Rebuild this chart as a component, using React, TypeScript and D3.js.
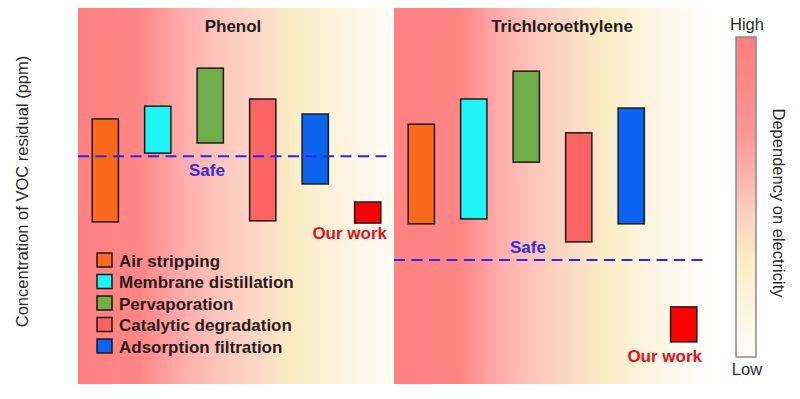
import React from "react";
import * as d3 from "d3";

const categories = ["Air stripping", "Membrane distillation", "Pervaporation", "Catalytic degradation", "Adsorption filtration", "Our work"];
const barColors = ["#fb6a1a", "#1ef4f4", "#6fae48", "#fc6464", "#0b63f2", "#ff0000"];

const phenolLow = [43.1, 61.4, 64.1, 43.4, 53.2, 42.8];
const phenolHigh = [70.5, 73.9, 84.0, 75.8, 71.8, 48.4];
const phenolSafe = 60.6;

const tceLow = [42.6, 43.9, 59.0, 37.8, 42.6, 11.2];
const tceHigh = [69.1, 75.8, 83.2, 66.8, 73.4, 20.5];
const tceSafe = 33.0;

const panelTitles = ["Phenol", "Trichloroethylene"];

const W = 800;
const H = 399;
const TOP = 8;
const BOTTOM = 384;
const PANEL_W = 314;
const panelX = [78, 394];

const y = d3.scaleLinear().domain([0, 100]).range([BOTTOM, TOP]);

const FONT = "'Liberation Sans', Arial, Helvetica, sans-serif";

type PanelProps = {
  idx: number;
  low: number[];
  high: number[];
  safe: number;
  safeLabelX: number;
  safeAbove: boolean;
};

function Panel({ idx, low, high, safe, safeLabelX, safeAbove }: PanelProps) {
  const x0 = panelX[idx];
  const x = d3
    .scaleBand<string>()
    .domain(categories)
    .range([x0, x0 + 317])
    .paddingInner(0.5)
    .paddingOuter(0.27);
  const safeY = y(safe);
  const ow = categories.length - 1;
  const owX = (x(categories[ow]) as number) + x.bandwidth() / 2;
  return (
    <g>
      <rect x={x0} y={TOP} width={PANEL_W} height={BOTTOM - TOP} fill={`url(#bg${idx})`} />
      <text x={x0 + (idx === 0 ? 155 : 168)} y={32} textAnchor="middle" fontFamily={FONT} fontWeight="bold" fontSize={17} fill="#1c1c1c">
        {panelTitles[idx]}
      </text>
      {categories.map((c, i) => (
        <rect
          key={c}
          x={x(c)}
          y={y(high[i])}
          width={x.bandwidth()}
          height={y(low[i]) - y(high[i])}
          fill={barColors[i]}
          stroke="#1e1a1a"
          strokeWidth={1.5}
        />
      ))}
      <line x1={x0} x2={x0 + PANEL_W - 1} y1={safeY} y2={safeY} stroke="#2a2ae6" strokeWidth={2} strokeDasharray="11,6.5" />
      <text x={safeLabelX} y={safeAbove ? safeY - 7 : safeY + 20} textAnchor="middle" fontFamily={FONT} fontWeight="bold" fontSize={17} fill="#3a2cd4">
        Safe
      </text>
      <text x={owX - (idx === 0 ? 18 : 19)} y={y(low[ow]) + (idx === 0 ? 16 : 20)} textAnchor="middle" fontFamily={FONT} fontWeight="bold" fontSize={17} fill="#e5121c">
        Our work
      </text>
    </g>
  );
}

export default function App() {
  const legendX = 97;
  const legendY0 = 260;
  const legendStep = 21.5;
  return (
    <svg width={W} height={H} style={{ display: "block", position: "absolute", left: 0, top: 0 }}>
      <defs>
        <linearGradient id="bg0" x1="0" x2="1" y1="0" y2="0">
          <stop offset="0" stopColor="#ff8080" />
          <stop offset="0.2" stopColor="#ff8686" />
          <stop offset="0.32" stopColor="#ffa9a9" />
          <stop offset="0.45" stopColor="#fdc5bd" />
          <stop offset="0.57" stopColor="#fbd8c6" />
          <stop offset="0.68" stopColor="#fbecc3" />
          <stop offset="0.83" stopColor="#fdf3de" />
          <stop offset="1" stopColor="#fffaf4" />
        </linearGradient>
        <linearGradient id="bg1" x1="0" x2="1" y1="0" y2="0">
          <stop offset="0" stopColor="#ff8080" />
          <stop offset="0.22" stopColor="#ff8686" />
          <stop offset="0.33" stopColor="#ffabab" />
          <stop offset="0.46" stopColor="#fdc8be" />
          <stop offset="0.57" stopColor="#fbdac6" />
          <stop offset="0.67" stopColor="#fbedc4" />
          <stop offset="0.83" stopColor="#fdf5e2" />
          <stop offset="1" stopColor="#fffefc" />
        </linearGradient>
        <linearGradient id="cbar" x1="0" x2="0" y1="0" y2="1">
          <stop offset="0" stopColor="#ff7e7e" />
          <stop offset="0.3" stopColor="#ff9494" />
          <stop offset="0.45" stopColor="#fdb6ae" />
          <stop offset="0.56" stopColor="#fcd2c0" />
          <stop offset="0.7" stopColor="#fcedc5" />
          <stop offset="0.85" stopColor="#fdf5e2" />
          <stop offset="1" stopColor="#fffbf7" />
        </linearGradient>
      </defs>
      <rect x={0} y={0} width={W} height={H} fill="#ffffff" />

      <text transform={`translate(28,191.5) rotate(-90)`} textAnchor="middle" fontFamily={FONT} fontSize={16.5} fill="#2a2a2a">
        Concentration of VOC residual (ppm)
      </text>

      <Panel idx={0} low={phenolLow} high={phenolHigh} safe={phenolSafe} safeLabelX={207} safeAbove={false} />
      <Panel idx={1} low={tceLow} high={tceHigh} safe={tceSafe} safeLabelX={528} safeAbove={true} />

      {categories.slice(0, 5).map((c, i) => (
        <g key={c}>
          <rect x={legendX} y={legendY0 + i * legendStep - 7} width={15} height={14} fill={barColors[i]} stroke="#1e1a1a" strokeWidth={1.5} />
          <text x={119} y={legendY0 + i * legendStep + 6.5} fontFamily={FONT} fontWeight="bold" fontSize={17} fill="#2a1c1c">
            {c}
          </text>
        </g>
      ))}

      <rect x={736} y={37} width={20} height={320} fill="url(#cbar)" stroke="#8a8a8a" strokeWidth={1.5} />
      <text x={747} y={30} textAnchor="middle" fontFamily={FONT} fontSize={16.5} fill="#2a2a2a">
        High
      </text>
      <text x={747} y={375} textAnchor="middle" fontFamily={FONT} fontSize={16.5} fill="#2a2a2a">
        Low
      </text>
      <text transform={`translate(773,203) rotate(90)`} textAnchor="middle" fontFamily={FONT} fontSize={16.5} fill="#2a2a2a">
        Dependency on electricity
      </text>
    </svg>
  );
}
